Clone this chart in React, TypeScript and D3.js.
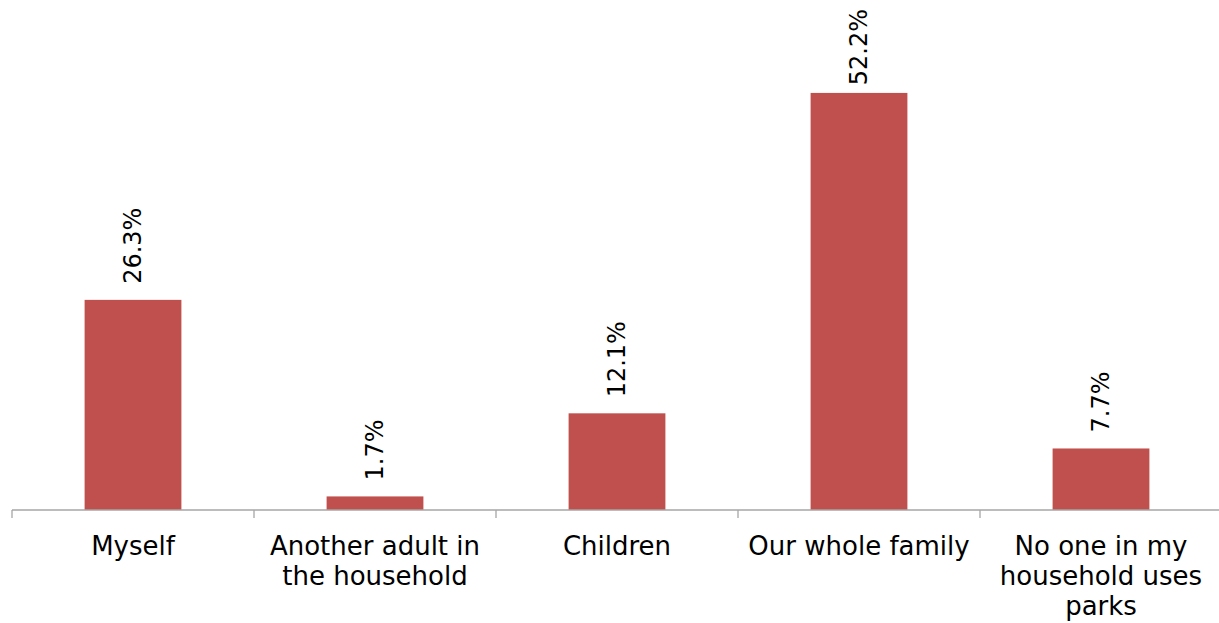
import React, { useEffect, useRef } from "react";
import * as d3 from "d3";

const categories = [
  "Myself",
  "Another adult in the household",
  "Children",
  "Our whole family",
  "No one in my household uses parks",
];
const values = [26.3, 1.7, 12.1, 52.2, 7.7];

const W = 1219;
const H = 623;

export default function App() {
  const ref = useRef<SVGSVGElement | null>(null);

  useEffect(() => {
    const svg = d3.select(ref.current);
    svg.selectAll("*").remove();
    const font = "'DejaVu Sans', sans-serif";

    const x = d3.scaleBand<string>().domain(categories).range([12, 1222]).paddingInner(0.6).paddingOuter(0.3);
    const y = d3.scaleLinear().domain([0, 60]).range([510, 30.6]);
    const step = x.step();

    // bars
    svg
      .append("g")
      .selectAll("rect")
      .data(values)
      .join("rect")
      .attr("x", (_, i) => x(categories[i])!)
      .attr("width", x.bandwidth())
      .attr("y", (d) => y(d))
      .attr("height", (d) => y(0) - y(d))
      .attr("fill", "#C0504D");

    // axis line and ticks
    const axis = svg.append("g").attr("stroke", "#A6A6A6").attr("stroke-width", 1.3);
    axis.append("line").attr("x1", 12).attr("x2", W).attr("y1", y(0)).attr("y2", y(0));
    const tickXs = categories.map((_, i) => 12 + i * step).concat([12 + categories.length * step]);
    axis
      .selectAll("line.tick")
      .data(tickXs)
      .join("line")
      .attr("class", "tick")
      .attr("x1", (d) => d)
      .attr("x2", (d) => d)
      .attr("y1", y(0))
      .attr("y2", y(0) + 8);

    // value labels (rotated)
    const labels = svg
      .append("g")
      .selectAll("text")
      .data(values)
      .join("text")
      .attr("font-family", font)
      .attr("font-size", 24)
      .attr("fill", "#000")
      .attr("dominant-baseline", "central")
      .text((d) => d.toFixed(1) + "%");
    labels.each(function (d, i) {
      const t = this as SVGTextElement;
      const len = t.getComputedTextLength();
      const cx = x(categories[i])! + x.bandwidth() / 2;
      const bottom = Math.max(y(d) - 16, 9 + len);
      d3.select(t).attr("transform", `translate(${cx},${bottom}) rotate(-90)`);
    });

    // category labels with wrapping
    const maxW = step - 10;
    categories.forEach((c, i) => {
      const cx = x(c)! + x.bandwidth() / 2;
      const t = svg
        .append("text")
        .attr("font-family", font)
        .attr("font-size", 26)
        .attr("fill", "#000")
        .attr("text-anchor", "middle");
      const words = c.split(" ");
      const lines: string[] = [];
      let cur = "";
      const probe = t.append("tspan");
      words.forEach((w) => {
        const test = cur ? cur + " " + w : w;
        probe.text(test);
        if ((probe.node() as SVGTSpanElement).getComputedTextLength() > maxW && cur) {
          lines.push(cur);
          cur = w;
        } else cur = test;
      });
      if (cur) lines.push(cur);
      probe.remove();
      lines.forEach((l, k) => {
        t.append("tspan").attr("x", cx).attr("y", 555 + k * 30).text(l);
      });
    });
  }, []);

  return (
    <svg
      ref={ref}
      width={W}
      height={H}
      style={{ position: "absolute", left: 0, top: 0, background: "#fff" }}
    />
  );
}
